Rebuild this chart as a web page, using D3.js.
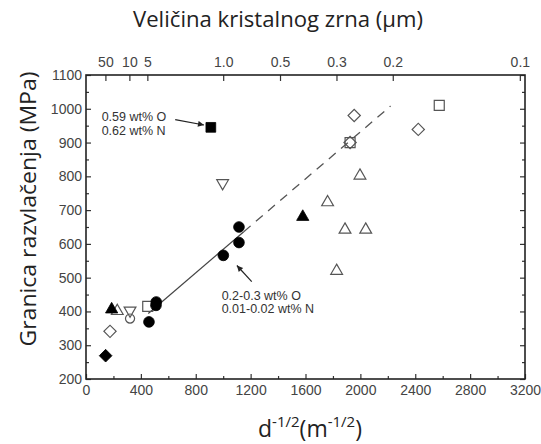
<!DOCTYPE html>
<html>
<head>
<meta charset="utf-8">
<script src="https://cdn.jsdelivr.net/npm/d3@7"></script>
<style>
  body { margin: 0; background: #fff; }
  svg { display: block; }
  .tick text { font-family: "Liberation Sans", Arial, sans-serif; font-size: 14px; fill: #444; }
  .tick line { stroke: #333; stroke-width: 1.2; }
  .domain { display: none; }
  .note { font-family: "Liberation Sans", Arial, sans-serif; font-size: 12.5px; fill: #333; }
  .title { font-family: "Open Sans", sans-serif; fill: #222; }
</style>
</head>
<body>
<div id="chart"></div>
<script>
// values: [d^-1/2 (m^-1/2), yield stress (MPa)]
var filledCircles = [[459, 369], [510, 418], [512, 428], [1001, 566], [1115, 604], [1115, 650]];
var filledSquares = [[910, 945]];
var filledTriangles = [[187, 406], [1580, 680]];
var filledDiamonds = [[143, 269]];
var openCircles = [[321, 379]];
var openSquares = [[450, 415], [1925, 900], [2575, 1010]];
var openDiamonds = [[175, 341], [1925, 900], [1955, 980], [2422, 939]];
var openTriangles = [[228, 401], [1761, 723], [1827, 520], [1888, 642], [1997, 802], [2039, 642]];
var openDownTriangles = [[321, 403], [996, 780]];

// fit line: solid part and dashed extension
var fitSolid = [[454, 394], [1150, 636]];
var fitDashed = [[1150, 636], [2220, 1008]];

// top axis: grain size in µm
var grainSizes = [50, 10, 5, 1.0, 0.5, 0.3, 0.2, 0.1];
var grainLabels = ["50", "10", "5", "1.0", "0.5", "0.3", "0.2", "0.1"];

var xTicks = [0, 400, 800, 1200, 1600, 2000, 2400, 2800, 3200];
var yTicks = [200, 300, 400, 500, 600, 700, 800, 900, 1000, 1100];

var width = 541,
    height = 444;

var svg = d3.select("#chart")
    .append("svg")
    .attr("width", width)
    .attr("height", height);

var x = d3.scaleLinear()
    .domain([0, 3200])
    .range([86, 525]);

var y = d3.scaleLinear()
    .domain([200, 1100])
    .range([379, 75]);

var plotTop = y.range()[1], plotBottom = y.range()[0],
    plotLeft = x.range()[0], plotRight = x.range()[1];

// minor ticks first
svg.append("g")
    .attr("transform", `translate(0,${plotBottom})`)
    .call(d3.axisBottom(x).tickValues(d3.range(200, 3200, 400)).tickSize(-3).tickFormat(""));

svg.append("g")
    .attr("transform", `translate(${plotLeft},0)`)
    .call(d3.axisLeft(y).tickValues(d3.range(250, 1100, 100)).tickSize(-3).tickFormat(""));

svg.append("g")
    .attr("transform", `translate(${plotRight},0)`)
    .call(d3.axisRight(y).tickValues(d3.range(250, 1100, 100)).tickSize(-3).tickFormat(""));

// major ticks
svg.append("g")
    .attr("transform", `translate(0,${plotBottom})`)
    .call(d3.axisBottom(x).tickValues(xTicks).tickSize(-5).tickPadding(6).tickFormat(d3.format("d")));

svg.append("g")
    .attr("transform", `translate(${plotLeft},0)`)
    .call(d3.axisLeft(y).tickValues(yTicks).tickSize(-5).tickPadding(4).tickFormat(d3.format("d")));

svg.append("g")
    .attr("transform", `translate(${plotRight},0)`)
    .call(d3.axisRight(y).tickValues(yTicks).tickSize(-5).tickFormat(""));

svg.append("g")
    .attr("transform", `translate(0,${plotTop})`)
    .call(d3.axisTop(x)
        .tickValues(grainSizes.map(d => 1000 / Math.sqrt(d)))
        .tickFormat((d, i) => grainLabels[i])
        .tickSize(-6)
        .tickPadding(8));

// frame
svg.append("rect")
    .attr("x", plotLeft)
    .attr("y", plotTop)
    .attr("width", plotRight - plotLeft)
    .attr("height", plotBottom - plotTop)
    .attr("fill", "none")
    .attr("stroke", "#222")
    .attr("stroke-width", 1.6);

// fit line
var line = d3.line().x(d => x(d[0])).y(d => y(d[1]));

svg.append("path")
    .datum(fitSolid)
    .attr("d", line)
    .attr("fill", "none")
    .attr("stroke", "#444")
    .attr("stroke-width", 1.2);

svg.append("path")
    .datum(fitDashed)
    .attr("d", line)
    .attr("fill", "none")
    .attr("stroke", "#555")
    .attr("stroke-width", 1.3)
    .attr("stroke-dasharray", "9,7");

// markers
function markers(data, type, size, rot, filled) {
    svg.append("g").selectAll("path")
        .data(data)
        .enter().append("path")
        .attr("d", d3.symbol().type(type).size(size))
        .attr("transform", d => `translate(${x(d[0])},${y(d[1])}) rotate(${rot})`)
        .attr("fill", filled ? "#000" : "none")
        .attr("stroke", filled ? "#000" : "#555")
        .attr("stroke-width", filled ? 0.8 : 1.2);
}

markers(openSquares, d3.symbolSquare, 100, 0, false);
markers(openDiamonds, d3.symbolSquare, 75, 45, false);
markers(openTriangles, d3.symbolTriangle, 60, 0, false);
markers(openDownTriangles, d3.symbolTriangle, 60, 180, false);
markers(openCircles, d3.symbolCircle, 65, 0, false);
markers(filledCircles, d3.symbolCircle, 90, 0, true);
markers(filledSquares, d3.symbolSquare, 95, 0, true);
markers(filledTriangles, d3.symbolTriangle, 65, 0, true);
markers(filledDiamonds, d3.symbolSquare, 80, 45, true);

// annotations
svg.append("defs").append("marker")
    .attr("id", "arrow")
    .attr("viewBox", "0 0 10 10")
    .attr("refX", 10)
    .attr("refY", 5)
    .attr("markerWidth", 8)
    .attr("markerHeight", 6)
    .attr("markerUnits", "userSpaceOnUse")
    .attr("orient", "auto")
    .append("path")
    .attr("d", "M0,0L10,5L0,10Z")
    .attr("fill", "#222");

var notes = [
    {lines: ["0.59 wt% O", "0.62 wt% N"], at: [114, 963], gap: 42, from: [650, 968], to: [860, 952]},
    {lines: ["0.2-0.3 wt% O", "0.01-0.02 wt% N"], at: [989, 433], gap: 39, from: [1208, 488], to: [1100, 536]}
];

notes.forEach(function(n) {
    n.lines.forEach(function(t, i) {
        svg.append("text")
            .attr("class", "note")
            .attr("x", x(n.at[0]))
            .attr("y", y(n.at[1] - i * n.gap))
            .text(t);
    });
    svg.append("line")
        .attr("x1", x(n.from[0]))
        .attr("y1", y(n.from[1]))
        .attr("x2", x(n.to[0]))
        .attr("y2", y(n.to[1]))
        .attr("stroke", "#222")
        .attr("stroke-width", 1.2)
        .attr("marker-end", "url(#arrow)");
});

// titles
svg.append("text")
    .attr("class", "title")
    .attr("x", 278)
    .attr("y", 27)
    .attr("text-anchor", "middle")
    .attr("font-size", 22)
    .attr("textLength", 290)
    .attr("lengthAdjust", "spacingAndGlyphs")
    .text("Veličina kristalnog zrna (µm)");

svg.append("text")
    .attr("class", "title")
    .attr("transform", "translate(36,209) rotate(-90)")
    .attr("text-anchor", "middle")
    .attr("font-size", 22)
    .attr("textLength", 275)
    .attr("lengthAdjust", "spacingAndGlyphs")
    .text("Granica razvlačenja (MPa)");

var xt = svg.append("text")
    .attr("class", "title")
    .attr("x", 310)
    .attr("y", 437)
    .attr("text-anchor", "middle")
    .attr("font-size", 23);
xt.append("tspan").text("d");
xt.append("tspan").attr("dy", -10).attr("font-size", 15).text("-1/2");
xt.append("tspan").attr("dy", 10).text("(m");
xt.append("tspan").attr("dy", -10).attr("font-size", 15).text("-1/2");
xt.append("tspan").attr("dy", 10).text(")");
</script>
</body>
</html>
